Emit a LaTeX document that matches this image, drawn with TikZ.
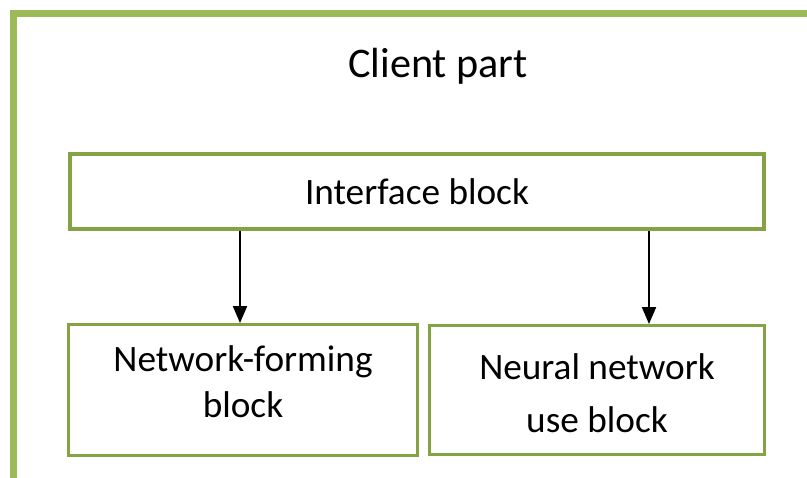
\documentclass[tikz,border=0pt]{standalone}
\usepackage{fontspec}
\setmainfont{Carlito}
\usetikzlibrary{arrows.meta}

\definecolor{framegreen}{HTML}{9BBB59}
\definecolor{boxgreen}{HTML}{84A345}

\tikzset{
    block/.style={draw=boxgreen, line width=2.6pt, fill=white, align=center,
        inner sep=0pt, font=\fontsize{26.5}{32.7}\selectfont},
    link/.style={line width=1.1pt, -{Triangle[length=12pt,width=10pt]}}
}

\begin{document}
\begin{tikzpicture}[x=0.025cm,y=-0.025cm]
    \useasboundingbox (0,0) rectangle (807,478);
    % outer frame, runs off the right and bottom edges
    \draw [framegreen, line width=5pt] (13.5,490) -- (13.5,13.5) -- (820,13.5);
    \node (title) at (438,66) {\fontsize{30}{34}\selectfont Client part};

    \node [block, minimum width=17.35cm, minimum height=1.88cm] (iface) at (417,191.5) {Interface block};
    % two-line blocks: text height set so the last baseline sits where it should
    \node [block, minimum width=8.72cm, minimum height=3.27cm,
        text height=1.35cm, text depth=0pt] (netform) at (243,390)
        {Network-forming\\ block};
    \node [block, minimum width=8.37cm, minimum height=3.22cm,
        font=\fontsize{26.5}{37.6}\selectfont,
        text height=2.1cm, text depth=0pt] (nnuse) at (597,390) {Neural network\\ use block};

    \coordinate (inleft) at (240,323);
    \coordinate (inright) at (649,324);
    \draw [link] (iface.south -| inleft) -- (inleft);
    \draw [link] (iface.south -| inright) -- (inright);
\end{tikzpicture}
\end{document}
